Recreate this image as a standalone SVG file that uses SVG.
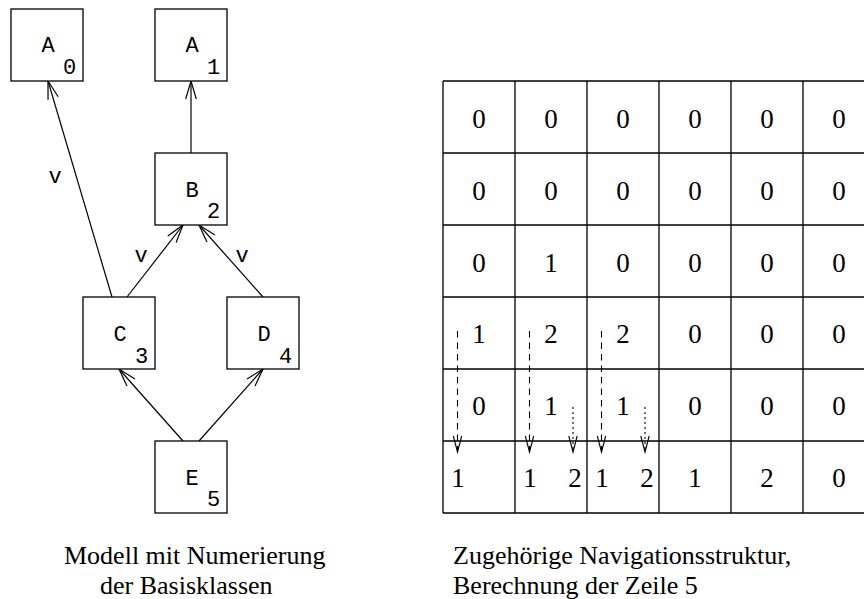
<svg xmlns="http://www.w3.org/2000/svg" width="864" height="599" viewBox="0 0 864 599">
  <style>
    .box { fill: #fff; stroke: #000; stroke-width: 1.3; }
    .lbl { font-family: "Liberation Mono", "DejaVu Sans Mono", monospace; font-size: 22px; fill: #000; text-anchor: middle; }
    .edge { fill: none; stroke: #000; stroke-width: 1.2; }
    .grid { fill: none; stroke: #000; stroke-width: 1.3; }
    .cell { font-family: "Liberation Serif", "Times New Roman", serif; font-size: 27px; fill: #000; text-anchor: middle; }
    .cap { font-family: "Liberation Serif", "Times New Roman", serif; font-size: 26px; fill: #000; }
    .dash { fill: none; stroke: #000; stroke-width: 1.1; stroke-dasharray: 6.5 5; }
    .dot { fill: none; stroke: #000; stroke-width: 1.1; stroke-dasharray: 2 3; }
  </style>
  <defs>
    <marker id="open" markerUnits="userSpaceOnUse" markerWidth="24" markerHeight="14" viewBox="-20 -7 22 14" refX="0" refY="0" orient="auto" overflow="visible">
      <path d="M-18,-5.3 L0,0 L-18,5.3" fill="none" stroke="#000" stroke-width="1.2"/>
    </marker>
    <marker id="openSmall" markerUnits="userSpaceOnUse" markerWidth="20" markerHeight="12" viewBox="-18 -6 20 12" refX="0" refY="0" orient="auto" overflow="visible">
      <path d="M-16,-4.2 L0,0 L-16,4.2" fill="none" stroke="#000" stroke-width="1.1"/>
    </marker>
  </defs>
  <rect width="864" height="599" fill="#fff"/>

  <!-- class graph -->
  <g id="connectors">
    <line class="edge" x1="112" y1="297" x2="48" y2="81" marker-end="url(#open)"/>
    <line class="edge" x1="191" y1="153" x2="191" y2="81" marker-end="url(#open)"/>
    <line class="edge" x1="127" y1="297" x2="183" y2="225" marker-end="url(#open)"/>
    <line class="edge" x1="263" y1="297" x2="199" y2="225" marker-end="url(#open)"/>
    <line class="edge" x1="183" y1="441" x2="119" y2="369" marker-end="url(#open)"/>
    <line class="edge" x1="199" y1="441" x2="263" y2="369" marker-end="url(#open)"/>
    <text class="lbl" x="55" y="183">v</text>
    <text class="lbl" x="141" y="262">v</text>
    <text class="lbl" x="242" y="262">v</text>
  </g>

  <g id="A0">
    <rect class="box" x="11" y="9" width="72" height="72"/>
    <text class="lbl" x="48" y="52">A</text>
    <text class="lbl" x="69.5" y="74">0</text>
  </g>
  <g id="A1">
    <rect class="box" x="155" y="9" width="72" height="72"/>
    <text class="lbl" x="192" y="52">A</text>
    <text class="lbl" x="213.5" y="74">1</text>
  </g>
  <g id="B2">
    <rect class="box" x="155" y="153" width="72" height="72"/>
    <text class="lbl" x="192" y="197">B</text>
    <text class="lbl" x="213.5" y="218">2</text>
  </g>
  <g id="C3">
    <rect class="box" x="83" y="297" width="72" height="72"/>
    <text class="lbl" x="120" y="341">C</text>
    <text class="lbl" x="141.5" y="363">3</text>
  </g>
  <g id="D4">
    <rect class="box" x="227" y="297" width="72" height="72"/>
    <text class="lbl" x="264" y="341">D</text>
    <text class="lbl" x="285.5" y="363">4</text>
  </g>
  <g id="E5">
    <rect class="box" x="155" y="441" width="72" height="72"/>
    <text class="lbl" x="192" y="485">E</text>
    <text class="lbl" x="213.5" y="506">5</text>
  </g>

  <!-- navigation table (runs past the right edge) -->
  <g id="table">
    <path class="grid" d="M443,81 H880 M443,153 H880 M443,225 H880 M443,297 H880 M443,369 H880 M443,441 H880 M443,513 H880
                          M443,81 V513 M515,81 V513 M587,81 V513 M659,81 V513 M731,81 V513 M803,81 V513"/>
    <g>
      <text class="cell" x="479" y="128">0</text><text class="cell" x="551" y="128">0</text><text class="cell" x="623" y="128">0</text>
      <text class="cell" x="695" y="128">0</text><text class="cell" x="767" y="128">0</text><text class="cell" x="839" y="128">0</text>

      <text class="cell" x="479" y="200">0</text><text class="cell" x="551" y="200">0</text><text class="cell" x="623" y="200">0</text>
      <text class="cell" x="695" y="200">0</text><text class="cell" x="767" y="200">0</text><text class="cell" x="839" y="200">0</text>

      <text class="cell" x="479" y="272">0</text><text class="cell" x="551" y="272">1</text><text class="cell" x="623" y="272">0</text>
      <text class="cell" x="695" y="272">0</text><text class="cell" x="767" y="272">0</text><text class="cell" x="839" y="272">0</text>

      <text class="cell" x="479" y="343">1</text><text class="cell" x="551" y="343">2</text><text class="cell" x="623" y="343">2</text>
      <text class="cell" x="695" y="343">0</text><text class="cell" x="767" y="343">0</text><text class="cell" x="839" y="343">0</text>

      <text class="cell" x="479" y="415">0</text><text class="cell" x="551" y="415">1</text><text class="cell" x="623" y="415">1</text>
      <text class="cell" x="695" y="415">0</text><text class="cell" x="767" y="415">0</text><text class="cell" x="839" y="415">0</text>

      <text class="cell" x="458" y="487">1</text>
      <text class="cell" x="530" y="487">1</text><text class="cell" x="575" y="487">2</text>
      <text class="cell" x="602" y="487">1</text><text class="cell" x="647" y="487">2</text>
      <text class="cell" x="695" y="487">1</text><text class="cell" x="767" y="487">2</text><text class="cell" x="839" y="487">0</text>
    </g>
    <!-- propagation of row 5 -->
    <g id="flow">
      <line class="dash" x1="457.5" y1="331" x2="457.5" y2="452" marker-end="url(#openSmall)"/>
      <line class="dash" x1="529.5" y1="331" x2="529.5" y2="452" marker-end="url(#openSmall)"/>
      <line class="dash" x1="601.5" y1="331" x2="601.5" y2="452" marker-end="url(#openSmall)"/>
      <line class="dot" x1="573" y1="407" x2="573" y2="452" marker-end="url(#openSmall)"/>
      <line class="dot" x1="645" y1="407" x2="645" y2="452" marker-end="url(#openSmall)"/>
    </g>
  </g>

  <g id="captions">
    <text class="cap" x="64" y="564">Modell mit Numerierung</text>
    <text class="cap" x="100" y="594">der Basisklassen</text>
    <text class="cap" x="453" y="564">Zugehörige Navigationsstruktur,</text>
    <text class="cap" x="453" y="594">Berechnung der Zeile 5</text>
  </g>
</svg>
